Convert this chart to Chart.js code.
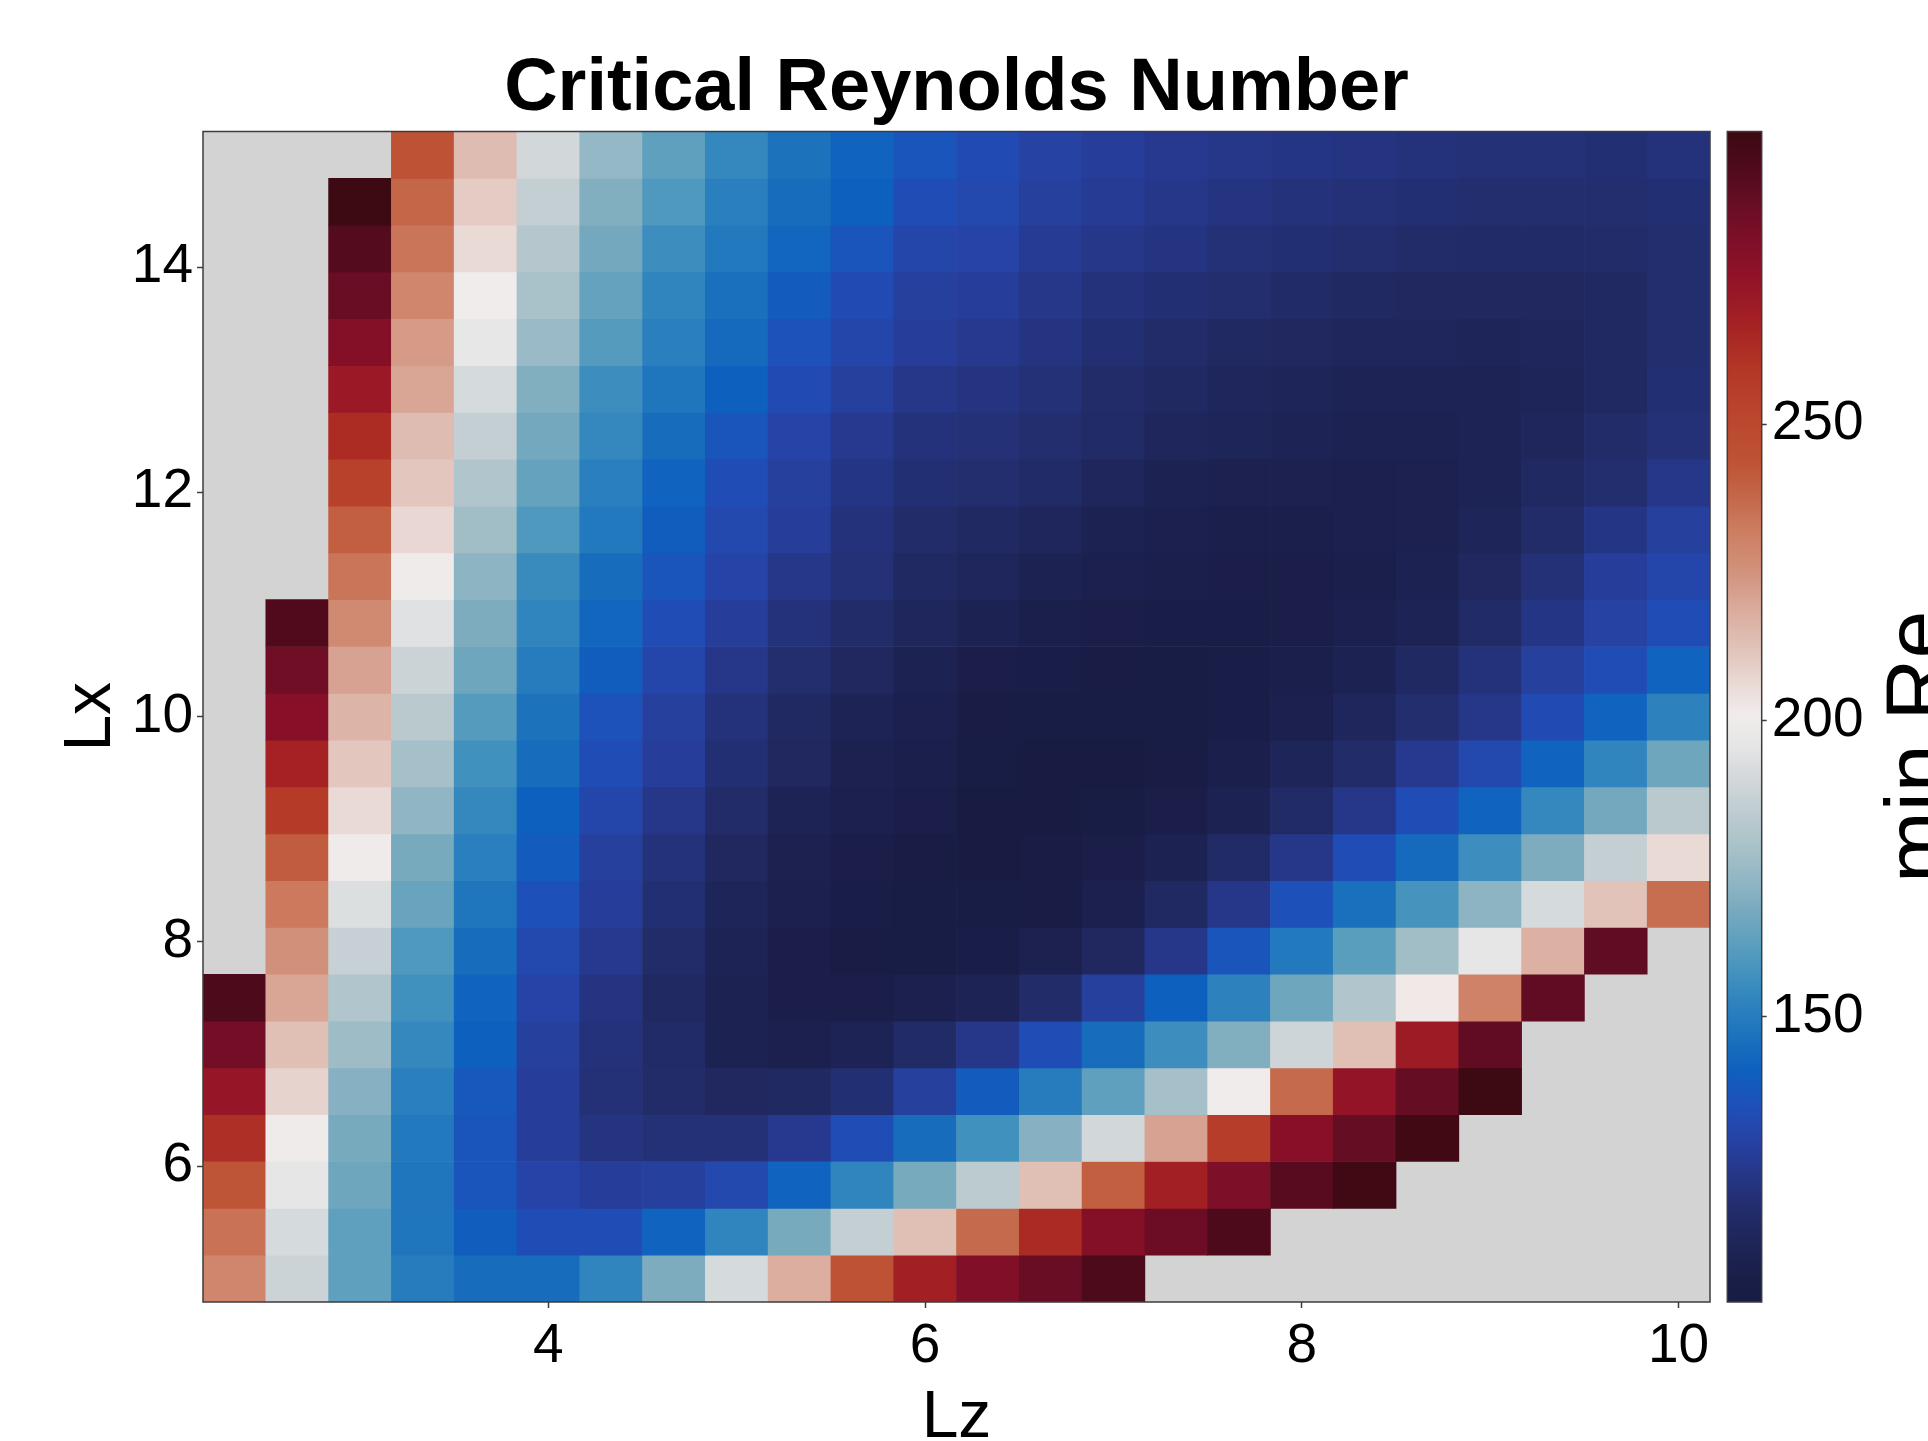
<!DOCTYPE html>
<html lang="en">
<head>
<meta charset="UTF-8">
<title>Critical Reynolds Number</title>
<script src="https://cdn.jsdelivr.net/npm/chart.js"></script>
<style>
  html, body { margin: 0; padding: 0; background: #fff; }
  #wrap { position: relative; width: 1928px; height: 1441px; overflow: hidden; }
  #heat { position: absolute; left: 0; top: 0; }
  #cbar { position: absolute; left: 1700px; top: 0; }
</style>
</head>
<body>
<div id="wrap">
  <canvas id="heat" width="1928" height="1441"></canvas>
  <canvas id="cbar" width="228" height="1441"></canvas>
</div>
<script>
// cell centres
const lzValues = [2.3333, 2.6667, 3.0, 3.3333, 3.6667, 4.0, 4.3333, 4.6667, 5.0, 5.3333, 5.6667, 6.0,
                  6.3333, 6.6667, 7.0, 7.3333, 7.6667, 8.0, 8.3333, 8.6667, 9.0, 9.3333, 9.6667, 10.0];
const lxValues = [5.0, 5.4167, 5.8333, 6.25, 6.6667, 7.0833, 7.5, 7.9167, 8.3333, 8.75, 9.1667, 9.5833, 10.0,
                  10.4167, 10.8333, 11.25, 11.6667, 12.0833, 12.5, 12.9167, 13.3333, 13.75, 14.1667, 14.5833, 15.0];

// min Re, one row per Lx (bottom to top), one entry per Lz; null = no data
const minRe = [
  [229,188,163,150,145,145,153,169,191,218,244,268,280,287,294,null,null,null,null,null,null,null,null,null],
  [235,191,163,148,140,134,134,142,153,168,186,213,237,264,279,286,294,null,null,null,null,null,null,null],
  [243,196,166,148,137,130,127,128,132,142,153,168,184,213,240,268,281,291,298,null,null,null,null,null],
  [262,200,168,149,137,127,122,120,120,125,134,145,157,171,190,221,256,278,288,298,null,null,null,null],
  [273,208,171,151,138,127,120,117,114,115,119,128,139,150,163,178,201,237,274,288,299,null,null,null],
  [284,213,176,154,141,128,121,116,110,108,111,116,124,134,145,156,170,189,213,270,289,null,null,null],
  [294,220,181,157,142,130,122,115,110,106,106,108,111,117,128,141,152,166,181,202,230,289,null,null],
  [null,226,187,160,145,132,125,117,111,106,104,103,105,109,114,124,137,149,162,177,196,217,289,null],
  [null,233,193,165,148,135,127,119,112,108,105,103,103,104,108,115,124,135,146,158,172,191,212,236],
  [null,241,200,168,151,139,128,121,114,109,106,104,102,104,106,110,116,124,134,144,156,169,186,206],
  [null,258,206,173,154,141,131,124,117,111,108,106,102,102,103,106,110,116,124,134,142,154,167,183],
  [null,267,211,178,157,145,134,127,119,114,109,107,103,102,102,104,107,112,117,125,132,142,153,166],
  [null,278,216,183,161,147,136,128,121,115,111,108,104,103,103,103,105,108,113,118,124,133,142,152],
  [null,285,221,188,166,150,140,131,124,118,114,110,106,105,104,103,105,107,110,115,121,128,134,142],
  [null,293,228,194,169,153,143,134,127,121,117,113,110,107,106,105,105,106,108,111,116,123,129,134],
  [null,null,234,200,172,155,145,137,130,124,120,115,113,110,108,107,106,106,107,110,114,120,127,131],
  [null,null,240,207,177,160,149,140,132,127,121,117,115,113,110,108,107,107,108,109,112,117,123,128],
  [null,null,254,211,181,164,151,142,134,128,123,119,118,116,113,110,109,109,108,109,111,115,118,124],
  [null,null,263,214,186,167,154,145,137,130,125,121,120,118,116,113,112,111,110,110,111,113,117,120],
  [null,null,271,220,191,170,156,148,141,133,128,124,122,120,117,115,113,112,111,111,111,112,115,119],
  [null,null,279,223,197,175,161,151,144,136,131,127,125,122,119,117,115,114,113,113,112,113,115,118],
  [null,null,287,229,201,179,164,153,146,139,133,128,127,124,121,119,118,116,115,114,114,114,115,118],
  [null,null,292,234,206,182,167,156,149,143,137,131,130,126,124,122,120,119,118,117,116,116,117,118],
  [null,null,299,238,210,186,170,160,151,145,141,134,132,128,126,124,122,121,120,119,118,118,118,119],
  [null,null,null,244,214,190,174,163,154,147,142,137,133,129,127,125,124,123,122,121,120,120,119,121]
];

const xTicks = [4, 6, 8, 10];
const yTicks = [6, 8, 10, 12, 14];
const cbTicks = [150, 200, 250];
const vMin = 101.9, vMax = 299.4;

// diverging blue-white-red map (cmocean "balance" look)
const balanceStops = [
  [0.000, [24, 28, 67]],   [0.026, [26, 31, 75]],   [0.051, [30, 37, 88]],   [0.076, [34, 44, 105]],
  [0.112, [38, 55, 138]],  [0.142, [38, 68, 168]],  [0.168, [30, 80, 185]],  [0.198, [14, 96, 190]],
  [0.223, [25, 112, 188]], [0.254, [45, 130, 190]], [0.279, [65, 145, 190]], [0.309, [95, 160, 190]],
  [0.335, [120, 170, 190]],[0.355, [140, 180, 195]],[0.385, [165, 192, 200]],[0.411, [185, 201, 206]],
  [0.446, [210, 215, 218]],[0.476, [230, 230, 230]],[0.502, [241, 236, 236]],[0.532, [232, 215, 210]],
  [0.558, [225, 195, 185]],[0.593, [218, 170, 155]],[0.623, [210, 147, 125]],[0.659, [205, 125, 97]],
  [0.689, [196, 102, 72]], [0.719, [190, 82, 52]],  [0.757, [186, 70, 45]],  [0.795, [180, 56, 38]],
  [0.836, [165, 33, 35]],  [0.876, [145, 18, 40]],  [0.917, [120, 14, 40]],  [0.942, [100, 13, 35]],
  [0.967, [80, 10, 28]],   [1.000, [60, 9, 18]]
];

function balance(v) {
  const t = Math.min(1, Math.max(0, (v - vMin) / (vMax - vMin)));
  for (let i = 1; i < balanceStops.length; i++) {
    const [t1, c1] = balanceStops[i];
    if (t <= t1) {
      const [t0, c0] = balanceStops[i - 1];
      const f = (t - t0) / (t1 - t0);
      const rgb = c0.map((a, k) => Math.round(a + (c1[k] - a) * f));
      return 'rgb(' + rgb.join(',') + ')';
    }
  }
  return 'rgb(60,9,18)';
}

const dLz = (lzValues[lzValues.length - 1] - lzValues[0]) / (lzValues.length - 1);
const dLx = (lxValues[lxValues.length - 1] - lxValues[0]) / (lxValues.length - 1);

// one floating bar per cell
const cells = [];
const cellColors = [];
lxValues.forEach((lx, r) => {
  minRe[r].forEach((v, c) => {
    if (v === null) return;
    cells.push({x: lzValues[c], y: [lx - dLx / 2, lx + dLx / 2], v: v});
    cellColors.push(balance(v));
  });
});

const FONT = "'Liberation Sans', Arial, Helvetica, sans-serif";
Chart.defaults.font.family = FONT;
Chart.defaults.color = '#000';

const plotBackground = {
  id: 'plotBackground',
  beforeDatasetsDraw(chart) {
    const {ctx, chartArea: a} = chart;
    ctx.save();
    ctx.fillStyle = '#d3d3d3';
    ctx.fillRect(a.left, a.top, a.right - a.left, a.bottom - a.top);
    ctx.restore();
  }
};

const frame = {
  id: 'frame',
  afterDatasetsDraw(chart) {
    const {ctx, chartArea: a} = chart;
    ctx.save();
    ctx.strokeStyle = '#3c3c3c';
    ctx.lineWidth = 1.5;
    ctx.strokeRect(a.left, a.top, a.right - a.left, a.bottom - a.top);
    ctx.restore();
  }
};

const tickGrid = {display: true, drawOnChartArea: false, drawTicks: true, tickLength: 6,
                  tickColor: '#3c3c3c', tickWidth: 1.5, offset: false};

new Chart(document.getElementById('heat'), {
  type: 'bar',
  data: {
    datasets: [{
      data: cells,
      backgroundColor: cellColors,
      borderWidth: 0,
      barPercentage: 1,
      categoryPercentage: 1
    }]
  },
  options: {
    responsive: false,
    animation: false,
    events: [],
    layout: {padding: {left: 0, right: 218, top: 0, bottom: 0}},
    plugins: {
      legend: {display: false},
      tooltip: {enabled: false},
      title: {
        display: true,
        text: 'Critical Reynolds Number',
        fullSize: false,
        color: '#000',
        font: {size: 74, weight: 'bold', lineHeight: 1},
        padding: {top: 53, bottom: 4.5}
      }
    },
    scales: {
      x: {
        type: 'linear',
        offset: false,
        min: lzValues[0] - dLz / 2,
        max: lzValues[lzValues.length - 1] + dLz / 2,
        afterBuildTicks: s => { s.ticks = xTicks.map(v => ({value: v})); },
        afterFit: s => { s.height = 139; },
        ticks: {font: {size: 55}, padding: 6, maxRotation: 0, autoSkip: false},
        grid: tickGrid,
        border: {display: false},
        title: {display: true, text: 'Lz', font: {size: 66, lineHeight: 0.5}, padding: {top: 0, bottom: 6}}
      },
      y: {
        type: 'linear',
        beginAtZero: false,
        min: lxValues[0] - dLx / 2,
        max: lxValues[lxValues.length - 1] + dLx / 2,
        afterBuildTicks: s => { s.ticks = yTicks.map(v => ({value: v})); },
        afterFit: s => { s.width = 203; },
        ticks: {font: {size: 55}, padding: 4, autoSkip: false},
        grid: tickGrid,
        border: {display: false},
        title: {display: true, text: 'Lx', font: {size: 66, lineHeight: 0.5}, padding: {top: 75, bottom: 0}}
      }
    }
  },
  plugins: [plotBackground, frame]
});

// colour bar
function barGradient(chart) {
  const a = chart.chartArea;
  if (!a) return '#888';
  const g = chart.ctx.createLinearGradient(0, a.bottom, 0, a.top);
  balanceStops.forEach(([t, c]) => g.addColorStop(t, 'rgb(' + c.join(',') + ')'));
  return g;
}

const cbarLabel = {
  id: 'cbarLabel',
  afterDraw(chart) {
    const {ctx, chartArea: a} = chart;
    ctx.save();
    ctx.translate(245, (a.top + a.bottom) / 2 + 30);
    ctx.rotate(-Math.PI / 2);
    ctx.font = '86px ' + FONT;
    ctx.textAlign = 'center';
    ctx.textBaseline = 'alphabetic';
    ctx.fillStyle = '#000';
    ctx.fillText('min Re', 0, 0);
    ctx.restore();
  }
};

new Chart(document.getElementById('cbar'), {
  type: 'bar',
  data: {
    labels: ['min Re'],
    datasets: [{
      data: [[vMin, vMax]],
      backgroundColor: c => barGradient(c.chart),
      borderWidth: 0,
      barPercentage: 1,
      categoryPercentage: 1
    }]
  },
  options: {
    responsive: false,
    animation: false,
    events: [],
    layout: {padding: {left: 27.3, right: 0, top: 131.5, bottom: 139}},
    plugins: {legend: {display: false}, tooltip: {enabled: false}},
    scales: {
      x: {display: false},
      y: {
        position: 'right',
        beginAtZero: false,
        min: vMin,
        max: vMax,
        afterBuildTicks: s => { s.ticks = cbTicks.map(v => ({value: v})); },
        afterFit: s => { s.width = 166.3; },
        ticks: {font: {size: 55}, padding: 5, autoSkip: false},
        grid: {display: true, drawOnChartArea: false, drawTicks: true, tickLength: 5, tickColor: '#3c3c3c', tickWidth: 1.5},
        border: {display: false}
      }
    }
  },
  plugins: [frame, cbarLabel]
});
</script>
</body>
</html>
